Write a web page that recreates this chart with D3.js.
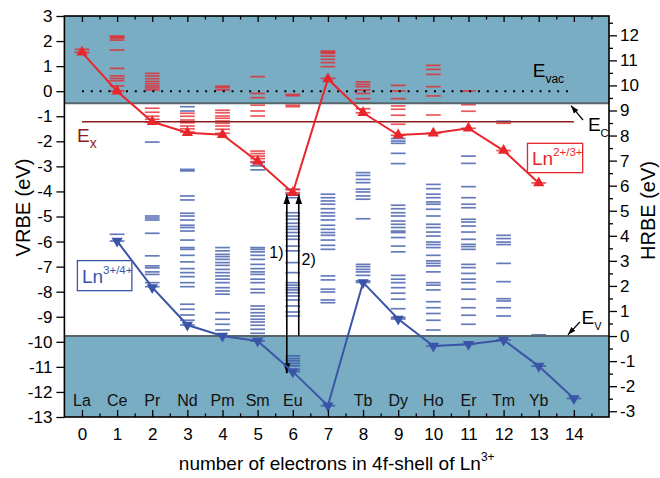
<!DOCTYPE html>
<html><head><meta charset="utf-8">
<script src="https://cdn.jsdelivr.net/npm/d3@7"></script>
<style>body{margin:0;background:#fff} text{font-family:"Liberation Sans",Arial,Helvetica,sans-serif}</style>
</head><body><svg id="c" width="660" height="478"></svg>
<script>
// ---------- data ----------
const elementLabels = ["La","Ce","Pr","Nd","Pm","Sm","Eu","","Tb","Dy","Ho","Er","Tm","Yb",""];
const xTicks = d3.range(0, 15);
const yTicks = d3.range(-13, 4);
const hTicks = d3.range(-3, 13);

const n23 = d3.range(0, 14);
const vrbe23 = [1.55, 0.0, -1.22, -1.66, -1.74, -2.81, -4.05, 0.49, -0.86, -1.75, -1.68, -1.48, -2.37, -3.66];
const n34 = d3.range(1, 15);
const vrbe34 = [-5.98, -7.83, -9.33, -9.77, -9.97, -11.19, -12.55, -7.63, -9.09, -10.17, -10.10, -9.93, -10.97, -12.26];

const levels23 = [
  [1.55, 1.67],
  [2.20, 2.16, 2.12, 2.04, 1.64, 0.91, 0.61, 0.51, 0.42, 0.21, 0.01],
  [0.71, 0.61, 0.50, 0.39, 0.30, 0.21, 0.13, 0.05, -0.68, -0.84, -1.00, -1.12, -1.23],
  [-0.88, -1.00, -1.15, -1.26, -1.39, -1.50, -1.63],
  [0.20, 0.14, 0.05, -0.76, -0.86, -0.99, -1.08, -1.19, -1.28, -1.39, -1.52, -1.68],
  [0.58, -0.09, -0.26, -0.56, -0.79, -0.99, -2.39, -2.49, -2.59, -2.69, -2.81],
  [-0.13, -0.18, -0.56, -0.62, -3.93, -4.05],
  [1.60, 1.55, 1.51, 1.40, 1.27, 1.14, 0.98, 0.51],
  [0.37, 0.27, 0.18, 0.05, -0.09, -0.30, -0.48, -0.70, -0.86],
  [0.23, 0.01, -0.30, -0.59, -0.72, -0.96, -1.32, -1.76],
  [1.03, 0.87, 0.67, 0.18, -0.19, -0.48, -0.95, -1.68],
  [0.01, -0.54, -0.80, -1.48],
  [-1.28, -2.37],
  [-3.66]
];
const levels34 = [
  [],
  [-5.71, -5.98],
  [-2.03, -4.98, -5.06, -5.14, -5.67, -6.57, -6.97, -7.05, -7.21, -7.31, -7.64, -7.80],
  [-0.62, -0.79, -3.12, -3.18, -4.18, -4.34, -4.87, -4.98, -5.14, -5.35, -5.44, -5.58, -5.94, -6.24, -6.31, -6.55, -6.81, -7.08, -7.24, -7.40, -7.64, -7.80, -8.50, -8.70, -8.93, -9.14, -9.33],
  [-6.24, -6.37, -6.51, -6.60, -6.71, -6.84, -6.95, -7.11, -7.24, -7.37, -7.50, -7.64, -7.84, -7.97, -8.10, -8.84, -9.10, -9.30, -9.53, -9.77],
  [-2.85, -2.98, -3.14, -6.24, -6.31, -6.41, -6.55, -6.71, -6.91, -7.08, -7.21, -7.31, -7.50, -7.64, -7.90, -8.04, -8.57, -8.70, -8.84, -8.97, -9.10, -9.21, -9.34, -9.50, -9.66, -9.79, -9.97],
  [-3.91, -4.11, -4.25, -4.85, -4.98, -5.11, -5.27, -5.40, -5.51, -5.64, -5.78, -5.91, -6.18, -6.37, -6.84, -7.24, -7.64, -7.74, -7.84, -7.93, -8.04, -8.17, -8.33, -8.57, -8.81, -8.97, -10.56, -10.67, -10.76, -10.86, -10.96, -11.10, -11.19],
  [-4.11, -4.25, -4.38, -4.51, -4.69, -4.85, -4.98, -5.14, -5.35, -5.51, -5.64, -5.75, -5.94, -6.15, -6.31, -7.37, -7.53, -7.90, -8.01, -8.33, -8.44, -12.55],
  [-3.25, -3.36, -3.52, -3.65, -3.91, -4.02, -4.18, -4.31, -5.09, -6.91, -7.00, -7.11, -7.21, -7.35, -7.57, -7.63],
  [-1.89, -1.99, -2.08, -2.48, -2.89, -4.55, -4.69, -4.85, -4.98, -5.18, -5.31, -5.44, -5.58, -5.64, -5.84, -6.18, -6.41, -7.35, -7.50, -7.64, -7.84, -8.06, -8.30, -8.68, -9.03, -9.09],
  [-3.72, -3.89, -4.11, -4.25, -4.42, -4.51, -4.71, -4.98, -5.31, -5.44, -5.62, -5.78, -6.02, -6.12, -6.24, -6.55, -6.77, -6.87, -6.97, -7.21, -7.64, -7.74, -7.93, -8.40, -8.64, -8.87, -9.14, -9.53, -10.17],
  [-2.59, -2.88, -3.81, -4.25, -4.51, -4.65, -5.11, -5.22, -5.38, -5.62, -5.91, -6.11, -6.20, -6.31, -6.91, -7.04, -7.27, -7.50, -7.64, -7.90, -8.30, -8.64, -8.94, -9.30, -10.10],
  [-1.20, -5.75, -5.88, -6.02, -6.12, -6.87, -7.60, -8.28, -8.37, -8.64, -8.97, -9.93],
  [-9.72, -10.97],
  [-12.26]
];
const E_vac = 0, E_c = -0.48, E_x = -1.22, E_v = -9.77;
const hrbeOffset = 9.77;

// ---------- setup ----------
const RED = "#e8262b", BLUE = "#3a55a8", BAND = "#79adc3", DARKRED = "#8b1d1d", EDGE = "#58666c";
const svg = d3.select("#c");
const x = d3.scaleLinear([-0.5, 15], [64.4, 609]);
const y = d3.scaleLinear([-13, 3], [417, 16]);
const yH = d3.scaleLinear([-13 + hrbeOffset, 3 + hrbeOffset], [417, 16]);
const [X0, X1] = x.range(), [Y1, Y0] = y.range();

const defs = svg.append("defs");
defs.append("marker").attr("id","ah").attr("viewBox","0 0 10 10").attr("refX",10).attr("refY",5)
  .attr("markerWidth",10).attr("markerHeight",10).attr("markerUnits","userSpaceOnUse").attr("orient","auto-start-reverse")
  .append("path").attr("d","M0,1.5L10,5L0,8.5Z").attr("fill","#000");
defs.append("marker").attr("id","ahs").attr("viewBox","0 0 10 10").attr("refX",10).attr("refY",5)
  .attr("markerWidth",8).attr("markerHeight",8).attr("markerUnits","userSpaceOnUse").attr("orient","auto")
  .append("path").attr("d","M0,1.5L10,5L0,8.5Z").attr("fill","#000");

// bands
svg.append("rect").attr("x",X0).attr("y",Y0).attr("width",X1-X0).attr("height",y(E_c)-Y0).attr("fill",BAND);
svg.append("rect").attr("x",X0).attr("y",y(E_v)).attr("width",X1-X0).attr("height",Y1-y(E_v)).attr("fill",BAND);

// level lines
const hw = 0.21;
function drawLevels(levels, color){
  const data = [];
  levels.forEach((arr,n)=>arr.forEach(v=>data.push({n,v})));
  svg.append("g").selectAll("line").data(data).join("line")
    .attr("x1",d=>x(d.n-hw)).attr("x2",d=>x(d.n+hw))
    .attr("y1",d=>y(d.v)).attr("y2",d=>y(d.v))
    .attr("stroke",color).attr("stroke-width",1.7).attr("stroke-opacity",0.78);
}
drawLevels(levels34, BLUE);
drawLevels(levels23, RED);

// reference lines
svg.append("line").attr("x1",X0).attr("x2",X1).attr("y1",y(E_c)).attr("y2",y(E_c)).attr("stroke",EDGE).attr("stroke-width",2);
svg.append("line").attr("x1",X0).attr("x2",X1).attr("y1",y(E_v)).attr("y2",y(E_v)).attr("stroke",EDGE).attr("stroke-width",2);
svg.append("line").attr("x1",x(0)).attr("x2",x(14)).attr("y1",y(E_x)).attr("y2",y(E_x)).attr("stroke",DARKRED).attr("stroke-width",1.5);
svg.append("line").attr("x1",x(0)).attr("x2",x(14)).attr("y1",y(E_vac)).attr("y2",y(E_vac))
  .attr("stroke","#000").attr("stroke-width",2).attr("stroke-dasharray","2,6.8");

// arrows in Eu column
svg.append("line").attr("x1",x(5.83)).attr("x2",x(5.83)).attr("y1",y(-4.12)).attr("y2",y(-11.25))
  .attr("stroke","#000").attr("stroke-width",1.6).attr("marker-start","url(#ah)").attr("marker-end","url(#ah)");
svg.append("line").attr("x1",x(6.17)).attr("x2",x(6.17)).attr("y1",y(E_v)).attr("y2",y(-4.12))
  .attr("stroke","#000").attr("stroke-width",1.6).attr("marker-end","url(#ah)");
svg.append("text").attr("x",x(5.33)).attr("y",y(-6.67)).attr("font-size",16).text("1)");
svg.append("text").attr("x",x(6.25)).attr("y",y(-6.94)).attr("font-size",16).text("2)");

// series
const line = d3.line().x(d=>x(d[0])).y(d=>y(d[1]));
const s23 = n23.map((n,i)=>[n,vrbe23[i]]);
const s34 = n34.map((n,i)=>[n,vrbe34[i]]);
svg.append("path").attr("d",line(s23)).attr("fill","none").attr("stroke",RED).attr("stroke-width",2);
svg.append("path").attr("d",line(s34)).attr("fill","none").attr("stroke",BLUE).attr("stroke-width",2);
const tri = d3.symbol(d3.symbolTriangle, 55);
svg.append("g").selectAll("path").data(s23).join("path").attr("d",tri)
  .attr("transform",d=>`translate(${x(d[0])},${y(d[1])})`).attr("fill",RED);
svg.append("g").selectAll("path").data(s34).join("path").attr("d",tri)
  .attr("transform",d=>`translate(${x(d[0])},${y(d[1])}) rotate(180)`).attr("fill",BLUE);

// element labels
svg.append("g").selectAll("text").data(xTicks).join("text")
  .attr("x",d=>x(d)).attr("y",Y1-11).attr("text-anchor","middle").attr("font-size",16).attr("fill","#111")
  .text(d=>elementLabels[d]);

// axes
const fmt = d=>String(d);
const gL = svg.append("g").attr("transform",`translate(${X0},0)`)
  .call(d3.axisLeft(y).tickValues(yTicks).tickSize(8).tickPadding(4).tickFormat(fmt));
const gR = svg.append("g").attr("transform",`translate(${X1},0)`)
  .call(d3.axisRight(yH).tickValues(hTicks).tickSize(8).tickPadding(3).tickFormat(fmt));
const gRm = svg.append("g").attr("transform",`translate(${X1},0)`)
  .call(d3.axisRight(yH).tickValues(hTicks.map(v=>v+0.5).filter(v=>v<12.77)).tickSize(4).tickFormat(""));
const gB = svg.append("g").attr("transform",`translate(0,${Y1})`)
  .call(d3.axisBottom(x).tickValues(xTicks).tickSize(-7).tickPadding(11).tickFormat(fmt));
const gBm = svg.append("g").attr("transform",`translate(0,${Y1})`)
  .call(d3.axisBottom(x).tickValues(xTicks.map(v=>v+0.5)).tickSize(-3.5).tickFormat(""));
const gT = svg.append("g").attr("transform",`translate(0,${Y0})`)
  .call(d3.axisTop(x).tickValues(xTicks).tickSize(-6).tickFormat(""));
const gTm = svg.append("g").attr("transform",`translate(0,${Y0})`)
  .call(d3.axisTop(x).tickValues(xTicks.map(v=>v+0.5)).tickSize(-3.5).tickFormat(""));
[gL,gR,gRm,gB,gBm,gT,gTm].forEach(g=>{
  g.select(".domain").remove();
  g.selectAll(".tick line").attr("stroke","#000").attr("stroke-width",1.3);
  g.selectAll("text").attr("font-size",17).attr("fill","#000").attr("font-family",'"Liberation Sans",Arial,sans-serif');
});
// frame
svg.append("rect").attr("x",X0).attr("y",Y0).attr("width",X1-X0).attr("height",Y1-Y0)
  .attr("fill","none").attr("stroke","#000").attr("stroke-width",1.6);

// axis titles
svg.append("text").attr("transform",`translate(30,${207.5}) rotate(-90)`).attr("text-anchor","middle")
  .attr("font-size",20).text("VRBE (eV)");
svg.append("text").attr("transform",`translate(655,${210.5}) rotate(-90)`).attr("text-anchor","middle")
  .attr("font-size",20).text("HRBE (eV)");
const xt = svg.append("text").attr("x",(X0+X1)/2).attr("y",470).attr("text-anchor","middle").attr("font-size",19);
xt.append("tspan").text("number of electrons in 4f-shell of Ln");
xt.append("tspan").attr("font-size",12).attr("dy",-9).text("3+");

// energy labels
function eLabel(xv, yv, sub, color, subSize){
  const t = svg.append("text").attr("x",x(xv)).attr("y",y(yv)).attr("font-size",19).attr("fill",color);
  t.append("tspan").text("E");
  t.append("tspan").attr("font-size",subSize).attr("dy",6).text(sub);
}
eLabel(-0.14, -2.03, "x", DARKRED, 14);
eLabel(12.83, 0.55, "vac", "#000", 12);
eLabel(14.4, -1.58, "C", "#000", 11);
eLabel(14.22, -9.30, "V", "#000", 11);
svg.append("line").attr("x1",x(14.26)).attr("y1",y(-1.15)).attr("x2",x(13.92)).attr("y2",y(-0.58))
  .attr("stroke","#000").attr("stroke-width",1.2).attr("marker-end","url(#ahs)");
svg.append("line").attr("x1",x(14.17)).attr("y1",y(-9.21)).attr("x2",x(13.83)).attr("y2",y(-9.72))
  .attr("stroke","#000").attr("stroke-width",1.2).attr("marker-end","url(#ahs)");

// legend boxes
function legendBox(x0v, x1v, y0v, y1v, sup, color){
  svg.append("rect").attr("x",x(x0v)).attr("y",y(y0v)).attr("width",x(x1v)-x(x0v)).attr("height",y(y1v)-y(y0v))
    .attr("fill","#fff").attr("stroke",color).attr("stroke-width",1.3);
  const t = svg.append("text").attr("x",x(x0v)+4.5).attr("y",y(y1v)-7.5).attr("font-size",19).attr("fill",color);
  t.append("tspan").text("Ln");
  t.append("tspan").attr("font-size",11.5).attr("dy",-9).text(sup);
}
legendBox(-0.13, 1.42, -6.76, -7.96, "3+/4+", BLUE);
legendBox(12.68, 14.25, -2.08, -3.25, "2+/3+", RED);
</script></body></html>
